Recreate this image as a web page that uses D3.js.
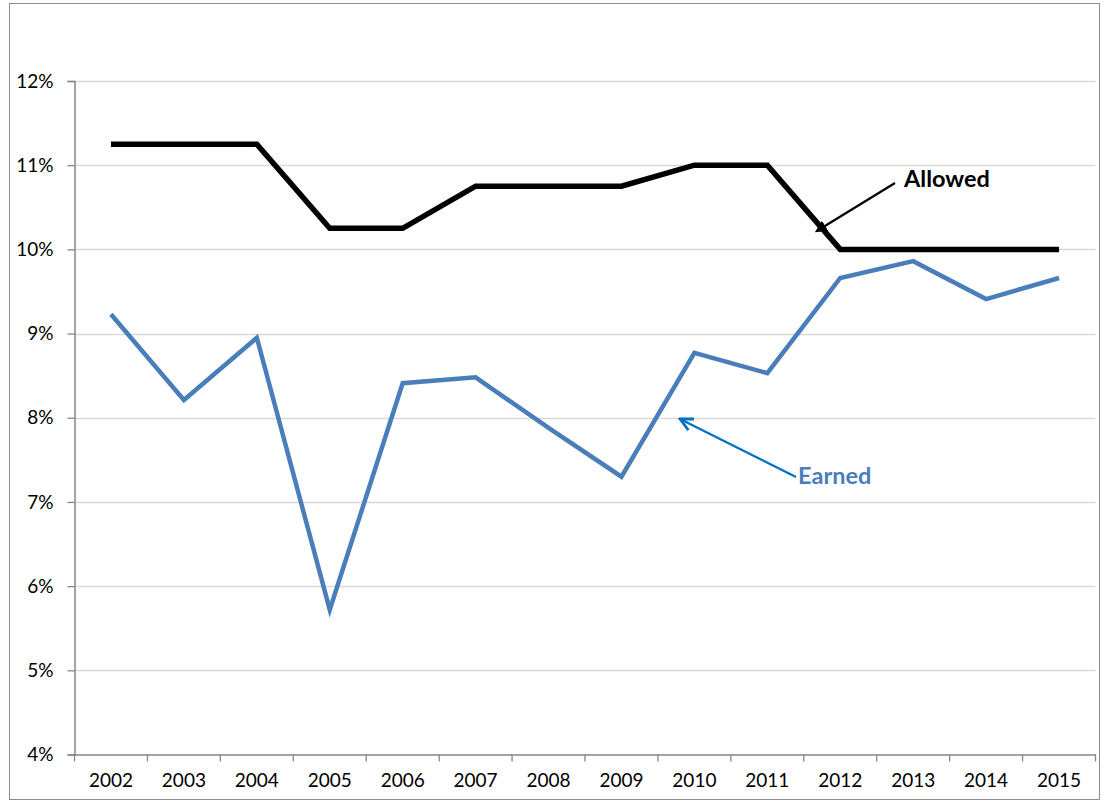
<!DOCTYPE html>
<html><head><meta charset="utf-8">
<script src="https://cdn.jsdelivr.net/npm/d3@7"></script>
<style>body{margin:0;background:#fff;} svg{display:block;}</style>
</head><body>
<script>
const years = ["2002","2003","2004","2005","2006","2007","2008","2009","2010","2011","2012","2013","2014","2015"];
const allowed = [11.25,11.25,11.25,10.25,10.25,10.75,10.75,10.75,11.0,11.0,10.0,10.0,10.0,10.0];
const earned = [9.23,8.21,8.95,5.72,8.41,8.48,7.88,7.30,8.77,8.53,9.66,9.86,9.41,9.66];
const yTicks = [4,5,6,7,8,9,10,11,12];

const W = 1104, H = 803;
const svg = d3.select("body").append("svg").attr("width", W).attr("height", H);
const font = "Lato, 'Open Sans', sans-serif";

svg.append("rect").attr("x",9.5).attr("y",3.5).attr("width",1090).attr("height",796)
  .attr("fill","#fff").attr("stroke","#8c8c8c").attr("stroke-width",1);

const L = 74.5, R = 1095.5, T = 81, B = 754.5;
const x = d3.scaleBand().domain(years).range([L, R]);
const y = d3.scaleLinear().domain([4, 12]).range([B, T]);

// gridlines
svg.append("g").selectAll("line").data(yTicks.filter(d=>d>4)).join("line")
  .attr("x1", L).attr("x2", R).attr("y1", d=>Math.round(y(d))+0.5).attr("y2", d=>Math.round(y(d))+0.5)
  .attr("stroke","#d9d9d9").attr("stroke-width",1.3);

// y axis
const ya = svg.append("g").attr("transform",`translate(${L},0)`)
  .call(d3.axisLeft(y).tickValues(yTicks).tickFormat(d=>d+"%").tickSize(7).tickPadding(14));
ya.select(".domain").attr("stroke","#868686").attr("stroke-width",1.5);
ya.selectAll(".tick line").attr("stroke","#868686").attr("stroke-width",1.3);
ya.selectAll("text").attr("font-family",font).attr("font-size",19).attr("fill","#000");

// x axis
const xa = svg.append("g").attr("transform",`translate(0,${B})`)
  .call(d3.axisBottom(x).tickSize(0).tickPadding(19));
xa.select(".domain").attr("stroke","#868686").attr("stroke-width",1.5);
xa.selectAll("text").attr("font-family",font).attr("font-size",19).attr("fill","#000");
const edges = years.map(d=>x(d)).concat([R]);
svg.append("g").selectAll("line").data(edges).join("line")
  .attr("x1",d=>d).attr("x2",d=>d).attr("y1",B).attr("y2",B+7)
  .attr("stroke","#868686").attr("stroke-width",1.3);

const cx = d => x(d) + x.bandwidth()/2;
const line = d3.line().x((d,i)=>cx(years[i])).y(d=>y(d));

svg.append("path").datum(earned).attr("d", line).attr("fill","none")
  .attr("stroke","#4a7ebb").attr("stroke-width",4.5).attr("stroke-linejoin","miter");
svg.append("path").datum(allowed).attr("d", line).attr("fill","none")
  .attr("stroke","#000").attr("stroke-width",5.5).attr("stroke-linejoin","miter");

// annotations
const defs = svg.append("defs");
defs.append("marker").attr("id","tri").attr("viewBox","0 0 10 10").attr("refX",5).attr("refY",5)
  .attr("markerWidth",5.5).attr("markerHeight",5.5).attr("orient","auto-start-reverse")
  .append("path").attr("d","M0,0L10,5L0,10z").attr("fill","#000");
defs.append("marker").attr("id","open").attr("viewBox","0 0 10 10").attr("refX",9).attr("refY",5)
  .attr("markerWidth",6.5).attr("markerHeight",6.5).attr("orient","auto-start-reverse")
  .append("path").attr("d","M1,1L9,5L1,9").attr("fill","none").attr("stroke","#0070c0").attr("stroke-width",1.8);

svg.append("line").attr("x1",895).attr("y1",183).attr("x2",820).attr("y2",229)
  .attr("stroke","#000").attr("stroke-width",2.2).attr("marker-end","url(#tri)");
svg.append("text").attr("x",904).attr("y",187).text("Allowed")
  .attr("font-family",font).attr("font-weight","bold").attr("font-size",23.5).attr("fill","#000");

svg.append("line").attr("x1",796).attr("y1",477).attr("x2",680).attr("y2",419)
  .attr("stroke","#0070c0").attr("stroke-width",2.4).attr("marker-end","url(#open)");
svg.append("text").attr("x",798).attr("y",484).text("Earned")
  .attr("font-family",font).attr("font-weight","bold").attr("font-size",23.5).attr("fill","#4a7ebb");
</script>
</body></html>
